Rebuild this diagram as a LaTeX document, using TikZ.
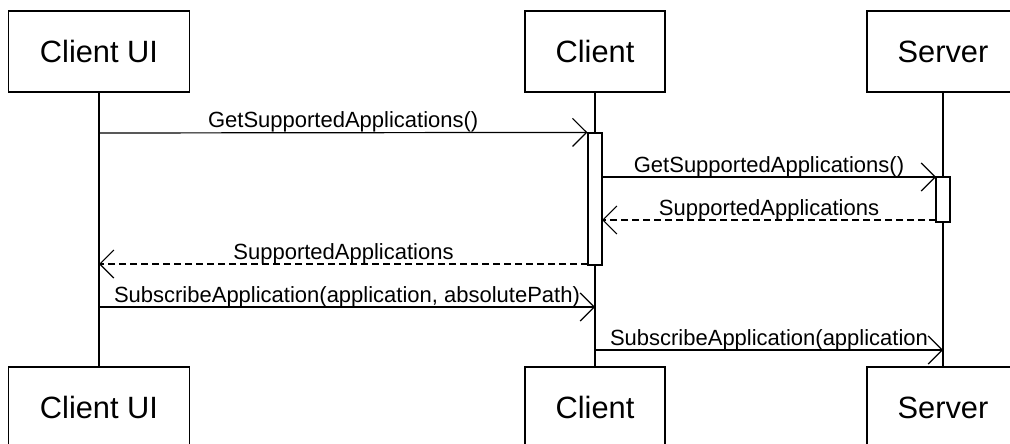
\documentclass[tikz,border=0pt]{standalone}
\usepackage{fontspec}
\setmainfont{Liberation Sans}
\usetikzlibrary{arrows.meta}

\begin{document}
\begin{tikzpicture}[x=1pt, y=-1pt,
  obj/.style={draw, line width=1.2pt, fill=white, minimum height=81pt,
              inner sep=0pt, font=\fontsize{30.8}{36}\selectfont},
  actbar/.style={draw, line width=1.2pt, fill=white, minimum width=14pt, inner sep=0pt},
  life/.style={line width=1.2pt},
  call/.style={line width=1.2pt, -{Straight Barb[length=14pt, width=28pt, line width=1.2pt]}},
  reply/.style={call, dash pattern=on 7pt off 4pt},
  lbl/.style={midway, anchor=base, yshift=5pt, inner sep=0pt,
              font=\fontsize{22}{26}\selectfont}]
\useasboundingbox (0,0) rectangle (1010,444);
\clip (0,0) rectangle (1010,444);

% participants, top and bottom
\node[obj, minimum width=181pt] (uiT) at (99,51.5)  {Client UI};
\node[obj, minimum width=140pt] (clT) at (595,51.5) {Client};
\node[obj, minimum width=152pt] (svT) at (943,51.5) {Server};
\node[obj, minimum width=181pt] (uiB) at (99,407.5)  {Client UI};
\node[obj, minimum width=140pt] (clB) at (595,407.5) {Client};
\node[obj, minimum width=152pt] (svB) at (943,407.5) {Server};

% lifelines
\draw[life] (uiT.south) -- (uiB.north);
\draw[life] (clT.south) -- (clB.north);
\draw[life] (svT.south) -- (svB.north);

% activation bars
\node[actbar, minimum height=132pt] (actC) at (595,199) {};
\node[actbar, minimum height=45pt]  (actS) at (943,199.5) {};

% message end points on the lifelines
\coordinate (m1a) at (99,133);
\coordinate (m2a) at (602,177);
\coordinate (m2b) at (936,177);
\coordinate (m3a) at (936,220);
\coordinate (m3b) at (602,220);
\coordinate (m4a) at (588,264);
\coordinate (m4b) at (99,264);
\coordinate (m5a) at (99,307);
\coordinate (m5b) at (595,307);
\coordinate (m6a) at (595,350);
\coordinate (m6b) at (943,350);

% messages
\draw[call]  (m1a) -- (actC.north west) node[lbl] {GetSupportedApplications()};
\draw[call]  (m2a) -- (m2b) node[lbl] {GetSupportedApplications()};
\draw[reply] (m3a) -- (m3b) node[lbl] {SupportedApplications};
\draw[reply] (m4a) -- (m4b) node[lbl] {SupportedApplications};
\draw[call]  (m5a) -- (m5b) node[lbl] {SubscribeApplication(application, absolutePath)};
\draw[call]  (m6a) -- (m6b) node[lbl] {SubscribeApplication(application};
\end{tikzpicture}
\end{document}
